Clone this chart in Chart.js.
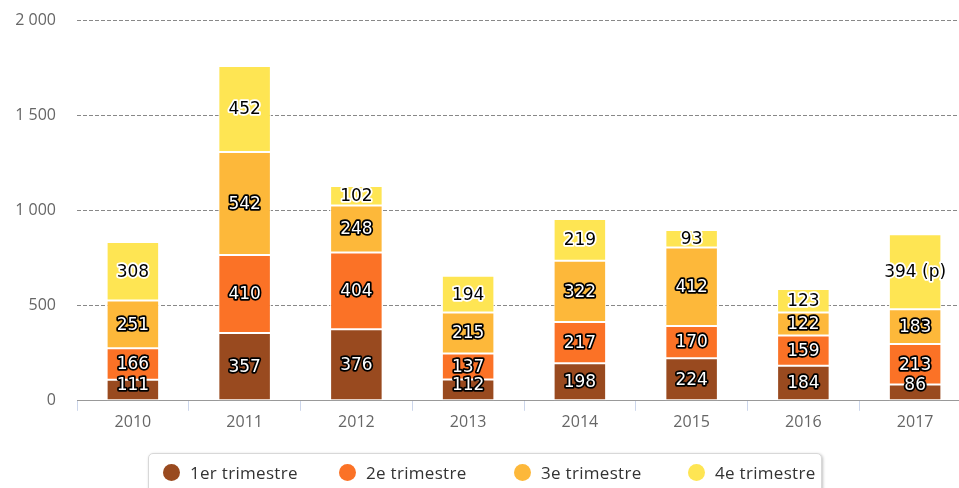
<!DOCTYPE html>
<html><head><meta charset="utf-8">
<script src="https://cdn.jsdelivr.net/npm/chart.js@4/dist/chart.umd.min.js"></script>
<style>
html,body{margin:0;padding:0;background:#fff;overflow:hidden;width:959px;height:488px;}
#wrap{position:absolute;left:0;top:-10px;width:971px;height:496px;}
#legend{position:absolute;left:148px;top:453px;width:672px;height:44px;border:1px solid #d8d8d8;border-radius:5px;box-shadow:1px 1px 3px rgba(0,0,0,0.25);background:#fff;font-family:"Open Sans","DejaVu Sans",sans-serif;font-size:17px;letter-spacing:0.3px;color:#333;}
#legend .it{position:absolute;top:7px;height:24px;line-height:24px;white-space:nowrap;}
#legend .dot{display:inline-block;width:17px;height:17px;border-radius:50%;vertical-align:-2px;margin-right:10px;}
</style></head>
<body>
<div id="wrap"><canvas id="c" width="971" height="496"></canvas></div>
<div id="legend"></div>
<script>
const categories = ["2010","2011","2012","2013","2014","2015","2016","2017"];
const seriesNames = ["1er trimestre","2e trimestre","3e trimestre","4e trimestre"];
const q1 = [111,357,376,112,198,224,184,86];
const q2 = [166,410,404,137,217,170,159,213];
const q3 = [251,542,248,215,322,412,122,183];
const q4 = [308,452,102,194,219,93,123,394];
const q4Labels = ["308","452","102","194","219","93","123","394 (p)"];
const yTicks = [0,500,1000,1500,2000];
const colors = ["#994a1f","#fb7226","#fdb83a","#fee553"];

const allData = [q1,q2,q3,q4];
const datasets = allData.map((d,i)=>({
  label: seriesNames[i],
  data: d,
  backgroundColor: colors[i],
  borderColor: "#ffffff",
  borderWidth: 1,
  borderSkipped: false,
  categoryPercentage: 1,
  barPercentage: 0.47
}));

const labelPlugin = {
  id:'segLabels',
  afterDatasetsDraw(chart){
    const ctx = chart.ctx;
    const bottom = chart.chartArea.bottom;
    ctx.save();
    ctx.font = '500 17px "DejaVu Sans", sans-serif';
    ctx.textAlign='center'; ctx.textBaseline='middle';
    ctx.lineJoin='round';
    chart.data.datasets.forEach((ds,di)=>{
      const meta = chart.getDatasetMeta(di);
      meta.data.forEach((bar,i)=>{
        const txt = di===3 ? q4Labels[i] : String(ds.data[i]);
        const top = Math.min(bar.y, bar.base), bot = Math.max(bar.y, bar.base);
        let y = Math.min((top+bot)/2, bottom-16);
        const fill = di===3 ? '#000' : '#fff';
        const stroke = di===3 ? '#fff' : '#000';
        ctx.lineWidth = 3.5; ctx.strokeStyle = stroke;
        ctx.strokeText(txt, bar.x, y+1);
        ctx.fillStyle = fill;
        ctx.fillText(txt, bar.x, y+1);
      });
    });
    ctx.restore();
  }
};

new Chart(document.getElementById('c'),{
  type:'bar',
  data:{labels:categories,datasets},
  options:{
    responsive:false,animation:false,
    layout:{padding:{left:0,right:0,top:10,bottom:52}},
    plugins:{legend:{display:false},tooltip:{enabled:false}},
    scales:{
      x:{
        stacked:true,
        offset:true,
        grid:{offset:true,drawOnChartArea:false,drawTicks:true,tickLength:10,color:'#ccd6eb'},
        border:{display:true,color:'#999999',width:1},
        ticks:{color:'#666666',font:{family:'"Open Sans","DejaVu Sans",sans-serif',size:16},padding:2}
      },
      y:{
        stacked:true,min:0,max:2000,
        afterBuildTicks(s){ s.ticks = yTicks.map(v=>({value:v})); },
        afterFit(s){ s.width = 77; },
        grid:{color:'#888888',drawTicks:false,lineWidth:1},
        border:{display:false,dash:[4,2]},
        ticks:{color:'#666666',padding:21,font:{family:'"Open Sans","DejaVu Sans",sans-serif',size:16},
          callback:(v)=>String(v).replace(/\B(?=(\d{3})+(?!\d))/g,' ')}
      }
    }
  },
  plugins:[labelPlugin]
});

const lg = document.getElementById('legend');
const lx = [14,190,365,539];
seriesNames.forEach((n,i)=>{
  const d=document.createElement('div'); d.className='it'; d.style.left=lx[i]+'px';
  d.innerHTML='<span class="dot" style="background:'+colors[i]+'"></span>'+n;
  lg.appendChild(d);
});
</script>
</body></html>
